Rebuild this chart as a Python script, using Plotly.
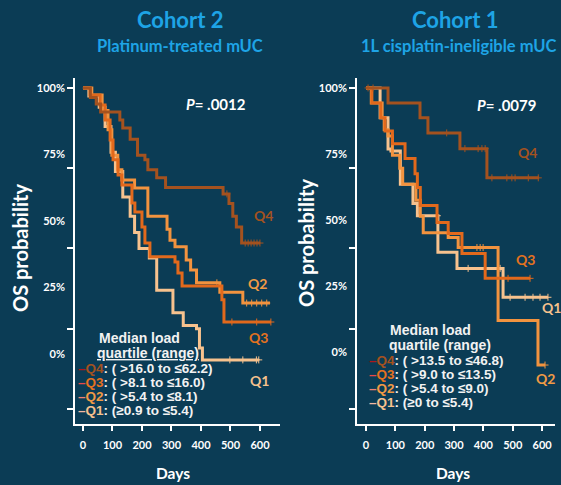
import numpy as np
import plotly.graph_objects as go

W, H = 561, 485

# ---------------- data: Kaplan-Meier step curves ----------------
# Cohort 2 (platinum-treated)
c2_q4_t = [0, 25, 45, 60, 125, 135, 160, 185, 210, 220, 250, 280, 475, 495, 508, 520, 538]
c2_q4_s = [1.0, .97, .95, .925, .90, .875, .84, .79, .776, .745, .72, .69, .67, .64, .60, .567, .517]
c2_q4_end = 600
c2_q4_cens = [488, 550, 560, 570, 580, 590, 600]

c2_q3_t = [0, 24, 58, 75, 92, 102, 119, 132, 166, 176, 200, 210, 227, 312, 322, 336, 471, 478]
c2_q3_s = [1.0, .978, .947, .90, .838, .776, .729, .698, .642, .614, .567, .517, .474, .458, .424, .383, .34, .271]
c2_q3_end = 637
c2_q3_cens = [505, 589, 637]

c2_q2_t = [0, 30, 65, 85, 98, 118, 132, 175, 220, 285, 295, 312, 350, 365, 385, 464, 542]
c2_q2_s = [1.0, .978, .93, .87, .79, .745, .713, .688, .60, .56, .526, .505, .464, .433, .393, .364, .330]
c2_q2_end = 634
c2_q2_cens = [454, 555, 572, 589, 606, 623]

c2_q1_t = [0, 20, 55, 75, 95, 110, 135, 160, 175, 190, 225, 250, 305, 340, 385, 395, 405]
c2_q1_s = [1.0, .975, .94, .88, .80, .74, .66, .60, .55, .50, .47, .37, .30, .26, .25, .19, .153]
c2_q1_end = 596
c2_q1_cens = [498, 542, 588, 596]

# Cohort 1 (1L cisplatin-ineligible)
c1_q4_t = [0, 75, 184, 211, 320, 412]
c1_q4_s = [1.0, .953, .907, .86, .811, .72]
c1_q4_end = 590
c1_q4_cens = [7, 24, 275, 337, 382, 395, 406, 429, 480, 497, 508, 553, 587]

c1_q3_t = [0, 20, 50, 65, 90, 133, 167, 175, 185, 242, 280, 327, 406]
c1_q3_s = [1.0, .953, .907, .866, .826, .78, .733, .69, .634, .581, .547, .484, .407]
c1_q3_end = 559
c1_q3_cens = [484, 559]

c1_q2_t = [0, 18, 55, 62, 75, 90, 115, 125, 170, 185, 195, 280, 314, 450, 586]
c1_q2_s = [1.0, .953, .907, .87, .85, .79, .75, .70, .65, .60, .549, .534, .503, .276, .137]
c1_q2_end = 610
c1_q2_cens = [378, 389, 399, 610]

c1_q1_t = [0, 48, 75, 85, 117, 160, 175, 245, 310, 467]
c1_q1_s = [1.0, .907, .81, .804, .70, .64, .602, .488, .438, .348]
c1_q1_end = 620
c1_q1_cens = [243, 348, 457, 491, 542, 569, 593, 620]

quartiles = ["Q4", "Q3", "Q2", "Q1"]
c2_ranges = ["( >16.0 to ≤62.2)", "( >8.1 to ≤16.0)", "( >5.4 to ≤8.1)", "(≥0.9 to ≤5.4)"]
c1_ranges = ["( >13.5 to ≤46.8)", "( >9.0 to ≤13.5)", "( >5.4 to ≤9.0)", "(≥0 to ≤5.4)"]
c2_p = ".0012"
c1_p = ".0079"

day_ticks = [0, 100, 200, 300, 400, 500, 600]
prob_ticks = [0, .25, .5, .75, 1.0]
prob_text = ["0%", "25%", "50%", "75%", "100%"]

# ---------------- styling ----------------
BG = "#0b3c55"
LINE_COL = {"Q4": "#a4521f", "Q3": "#e2691c", "Q2": "#f2933f", "Q1": "#f7c28e"}
TAG_COL = {"Q4": "#a4521f", "Q3": "#e5721f", "Q2": "#f09a45", "Q1": "#f6c18d"}
DASH_COL = {"Q4": "#b0181a", "Q3": "#e84a48", "Q2": "#f08272", "Q1": "#f4b9a2"}
TITLE_BLUE = "#1ea4e6"
FONT = "Lato"
LEG_FONT = "Liberation Sans"


def px_x(x):
    return x / W


def px_y(y):
    return 1 - y / H


def km_value(t, s, at):
    idx = np.searchsorted(np.asarray(t), np.asarray(at), side="right") - 1
    return np.asarray(s)[idx]


fig = go.Figure()

cohorts = [
    ("x", "y", {"Q4": (c2_q4_t, c2_q4_s, c2_q4_end, c2_q4_cens),
                "Q3": (c2_q3_t, c2_q3_s, c2_q3_end, c2_q3_cens),
                "Q2": (c2_q2_t, c2_q2_s, c2_q2_end, c2_q2_cens),
                "Q1": (c2_q1_t, c2_q1_s, c2_q1_end, c2_q1_cens)}),
    ("x2", "y2", {"Q4": (c1_q4_t, c1_q4_s, c1_q4_end, c1_q4_cens),
                  "Q3": (c1_q3_t, c1_q3_s, c1_q3_end, c1_q3_cens),
                  "Q2": (c1_q2_t, c1_q2_s, c1_q2_end, c1_q2_cens),
                  "Q1": (c1_q1_t, c1_q1_s, c1_q1_end, c1_q1_cens)}),
]

for xa, ya, curves in cohorts:
    for q in ["Q1", "Q2", "Q3", "Q4"]:
        t, s, end, cens = curves[q]
        xs = list(t) + [end]
        ys = list(s) + [s[-1]]
        fig.add_trace(go.Scatter(x=xs, y=ys, mode="lines", line=dict(color=LINE_COL[q], width=3, shape="hv"),
                                 xaxis=xa, yaxis=ya, showlegend=False, hoverinfo="skip"))
        fig.add_trace(go.Scatter(x=cens, y=km_value(t, s, cens), mode="markers",
                                 marker=dict(symbol="cross-thin", size=5, line=dict(color=LINE_COL[q], width=1)),
                                 xaxis=xa, yaxis=ya, showlegend=False, hoverinfo="skip"))

# placeholder traces so the overlaid percent-label axes are drawn
fig.add_trace(go.Scatter(x=[None], y=[None], xaxis="x", yaxis="y3", showlegend=False))
fig.add_trace(go.Scatter(x=[None], y=[None], xaxis="x2", yaxis="y4", showlegend=False))

tickfont = dict(family=FONT, size=11, color="white", weight="bold")
common_x = dict(showline=True, linecolor="white", linewidth=2, ticks="outside", ticklen=5, tickwidth=2,
                tickcolor="white", tickvals=day_ticks, tickfont=tickfont, showgrid=False, zeroline=False,
                ticklabelstandoff=5, fixedrange=True)
common_y = dict(showline=True, linecolor="white", linewidth=2, ticks="outside", ticklen=6, tickwidth=2,
                tickcolor="white", tickvals=prob_ticks, showticklabels=False, showgrid=False, zeroline=False,
                fixedrange=True)
label_y = dict(side="left", tickvals=prob_ticks, ticktext=prob_text, tickfont=tickfont, ticks="",
               showline=False, showgrid=False, zeroline=False, ticklabelstandoff=9, fixedrange=True)

ydom = [px_y(424), px_y(78)]

fig.update_layout(
    width=W, height=H, autosize=False,
    margin=dict(l=0, r=0, t=0, b=0),
    paper_bgcolor=BG, plot_bgcolor="rgba(0,0,0,0)",
    xaxis=dict(domain=[px_x(75), px_x(280)], range=[-27, 668], anchor="y", **common_x),
    yaxis=dict(domain=ydom, range=[-0.0467, 1.031], anchor="x", **common_y),
    xaxis2=dict(domain=[px_x(357), px_x(555)], range=[-30.7, 644], anchor="y2", **common_x),
    yaxis2=dict(domain=ydom, range=[-0.0467, 1.031], anchor="x2", **common_y),
    yaxis3=dict(overlaying="y", anchor="x", range=[-0.263, 1.0376], **label_y),
    yaxis4=dict(overlaying="y2", anchor="x2", range=[-0.272, 1.038], **label_y),
)

ann = []


def text(x, y, s, size, color="white", family=FONT, bold=True, xanchor="center", angle=0):
    ann.append(dict(x=px_x(x), y=px_y(y), xref="paper", yref="paper", text=s, showarrow=False,
                    xanchor=xanchor, yanchor="middle", textangle=angle, borderpad=0,
                    font=dict(family=family, size=size, color=color, weight="bold" if bold else "normal")))


# titles
text(180, 20, "Cohort 2", 22, TITLE_BLUE)
text(180, 46, "Platinum-treated mUC", 16.5, TITLE_BLUE)
text(455, 20, "Cohort 1", 22, TITLE_BLUE)
text(458, 46, "1L cisplatin-ineligible mUC", 16.5, TITLE_BLUE)

# axis titles
text(20, 248, "OS probability", 20, angle=-90)
text(306, 243, "OS probability", 20, angle=-90)
text(173, 473, "Days", 15.5)
text(453, 473, "Days", 15.5)

# p-values
text(216, 104, "<i>P</i>= " + c2_p, 15)
text(506, 105, "<i>P</i>= " + c1_p, 15)

# curve tags
for q, (x, y) in zip(quartiles, [(263, 215), (258, 337), (257, 283), (259, 380)]):
    text(x, y, q, 14, TAG_COL[q])
for q, (x, y) in zip(quartiles, [(527, 152), (525, 259), (545, 378), (551, 307)]):
    text(x, y, q, 14, TAG_COL[q])

# legend blocks
text(139, 338, "Median load", 14, "#f2f2f2", LEG_FONT)
text(148, 353, "<u>quartile (range)</u>", 14, "#f2f2f2", LEG_FONT)
for i, q in enumerate(quartiles):
    s = (f"<span style='color:{DASH_COL[q]}'>–</span><span style='color:{TAG_COL[q]}'>{q}</span>"
         f": {c2_ranges[i]}")
    text(77, 368 + 14 * i, s, 13.5, "#f2f2f2", LEG_FONT, xanchor="left")

text(430, 330, "Median load", 14, "#f2f2f2", LEG_FONT)
text(440, 345, "quartile (range)", 14, "#f2f2f2", LEG_FONT)
for i, q in enumerate(quartiles):
    s = (f"<span style='color:{DASH_COL[q]}'>–</span><span style='color:{TAG_COL[q]}'>{q}</span>"
         f": {c1_ranges[i]}")
    text(368, 360 + 14 * i, s, 13.5, "#f2f2f2", LEG_FONT, xanchor="left")

fig.update_layout(annotations=ann)
fig.write_html("out.html")
